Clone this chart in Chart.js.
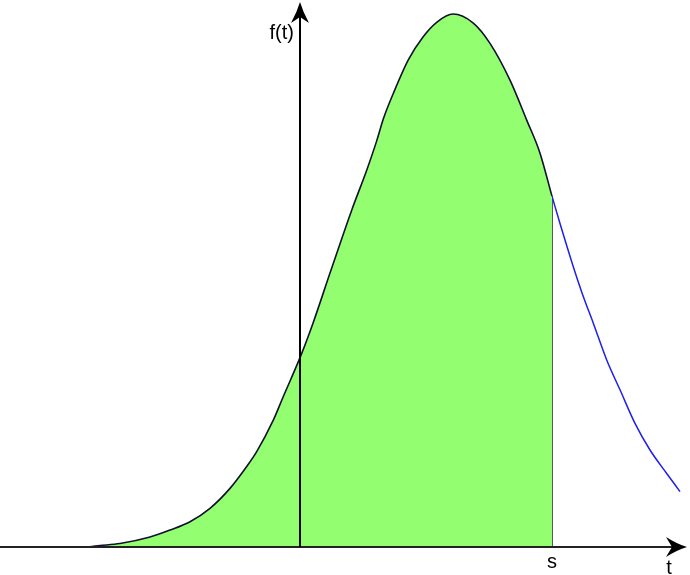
<!DOCTYPE html>
<html>
<head>
<meta charset="utf-8">
<script src="https://cdn.jsdelivr.net/npm/chart.js@4/dist/chart.umd.min.js"></script>
<style>
  html, body { margin: 0; padding: 0; background: #fff; }
  #wrap { width: 690px; height: 575px; position: relative; }
</style>
</head>
<body>
<div id="wrap"><canvas id="c"></canvas></div>
<script>
// Shaded part of the density, from the left end up to s
const tShaded = [-3.00, -2.15, -2.00, -1.80, -1.50, -1.30, -1.10, -0.90, -0.70, -0.533, -0.433, -0.267, -0.17, 0.01, 0.13, 0.30, 0.517, 0.667, 0.767, 0.833, 0.933, 1.083, 1.23, 1.37, 1.53, 1.733, 1.90, 2.10, 2.267, 2.40, 2.52];
const fShaded = [0.000, 0.000, 0.0028, 0.0066, 0.0188, 0.0319, 0.0475, 0.0726, 0.110, 0.151, 0.179, 0.238, 0.281, 0.360, 0.420, 0.514, 0.632, 0.707, 0.762, 0.803, 0.851, 0.914, 0.957, 0.985, 1.000, 0.983, 0.945, 0.876, 0.801, 0.739, 0.658];
// Tail of the density beyond s
const tTail = [2.52, 2.60, 2.733, 2.833, 2.933, 3.067, 3.20, 3.35, 3.50, 3.667, 3.80];
const fTail = [0.658, 0.607, 0.526, 0.470, 0.420, 0.351, 0.295, 0.232, 0.182, 0.138, 0.104];
// Marked point on the t axis
const sValue = 2.52;
const sDensity = 0.658;
// Axis labels
const xAxisLabel = 't';
const yAxisLabel = 'f(t)';
const sLabel = 's';

const toPts = (xs, ys) => xs.map((x, i) => ({ x: x, y: ys[i] }));

function arrowHead(ctx, tipX, tipY, dir) {
  ctx.save();
  ctx.fillStyle = '#000';
  ctx.beginPath();
  if (dir === 'right') {
    ctx.moveTo(tipX, tipY);
    ctx.quadraticCurveTo(tipX - 10, tipY - 3, tipX - 21, tipY - 10);
    ctx.lineTo(tipX - 15, tipY);
    ctx.lineTo(tipX - 21, tipY + 10);
    ctx.quadraticCurveTo(tipX - 10, tipY + 3, tipX, tipY);
  } else {
    ctx.moveTo(tipX, tipY);
    ctx.quadraticCurveTo(tipX - 3, tipY + 10, tipX - 9, tipY + 21);
    ctx.lineTo(tipX, tipY + 15);
    ctx.lineTo(tipX + 9, tipY + 21);
    ctx.quadraticCurveTo(tipX + 3, tipY + 10, tipX, tipY);
  }
  ctx.closePath();
  ctx.fill();
  ctx.restore();
}

const axesPlugin = {
  id: 'axesPlugin',
  afterDatasetsDraw(chart) {
    const ctx = chart.ctx;
    const xs = chart.scales.x, ys = chart.scales.y;
    const x0 = xs.getPixelForValue(0);
    const y0 = ys.getPixelForValue(0);
    const right = chart.chartArea.right - 3;
    ctx.save();
    ctx.lineWidth = 2;
    ctx.strokeStyle = '#222';
    ctx.beginPath();
    ctx.moveTo(chart.chartArea.left, y0);
    ctx.lineTo(right - 10, y0);
    ctx.stroke();
    ctx.strokeStyle = '#000';
    ctx.beginPath();
    ctx.moveTo(x0, y0);
    ctx.lineTo(x0, 12);
    ctx.stroke();
    arrowHead(ctx, right, y0, 'right');
    arrowHead(ctx, x0, 2, 'up');
    ctx.fillStyle = '#000';
    ctx.font = '20px "Liberation Sans", Arial, sans-serif';
    ctx.textAlign = 'right';
    ctx.textBaseline = 'alphabetic';
    ctx.fillText(yAxisLabel, x0 - 6, 39);
    ctx.textAlign = 'center';
    ctx.fillText(sLabel, xs.getPixelForValue(sValue), 568);
    ctx.fillText(xAxisLabel, right - 18, 574);
    ctx.restore();
  }
};

new Chart(document.getElementById('c'), {
  type: 'line',
  data: {
    datasets: [
      {
        data: toPts(tShaded, fShaded),
        borderColor: '#10102e',
        borderWidth: 1.6,
        backgroundColor: '#93ff70',
        fill: 'origin',
        pointRadius: 0,
        cubicInterpolationMode: 'monotone'
      },
      {
        data: toPts(tTail, fTail),
        borderColor: '#1f1fef',
        borderWidth: 1.5,
        fill: false,
        pointRadius: 0,
        cubicInterpolationMode: 'monotone'
      },
      {
        data: [{ x: sValue, y: 0 }, { x: sValue, y: sDensity }],
        borderColor: '#222',
        borderWidth: 1.5,
        fill: false,
        pointRadius: 0
      }
    ]
  },
  options: {
    responsive: true,
    maintainAspectRatio: false,
    animation: false,
    layout: { padding: 0 },
    plugins: { legend: { display: false }, tooltip: { enabled: false } },
    scales: {
      x: { type: 'linear', display: false, min: -3.0, max: 3.9 },
      y: { type: 'linear', display: false, min: -0.0525, max: 1.0263 }
    }
  },
  plugins: [axesPlugin]
});
</script>
</body>
</html>
